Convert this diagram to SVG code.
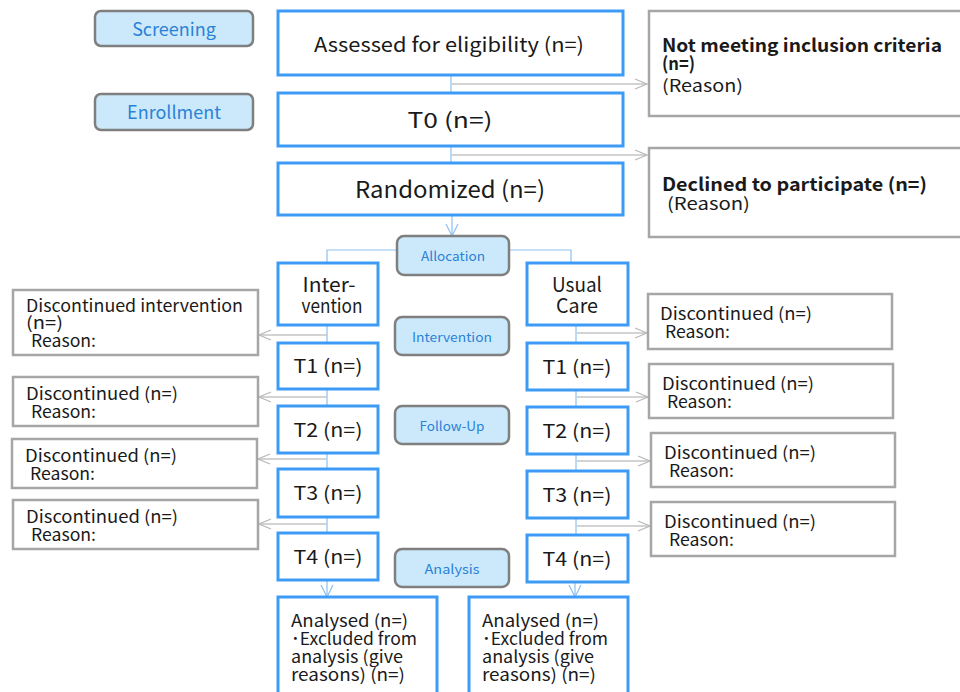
<svg xmlns="http://www.w3.org/2000/svg" width="960" height="692" viewBox="0 0 960 692">
<style>
text{font-family:"Noto Sans CJK JP","Noto Sans",sans-serif;fill:#1a1a1a}
.phase rect{fill:#cce9fc;stroke:#7f7f7f;stroke-width:2.5}
.phase text{fill:#2a82d6;text-anchor:middle}
.main rect{fill:#fff;stroke:#3d9bf5;stroke-width:3}
.main text{text-anchor:middle}
.main text.lt{text-anchor:start;font-size:17px}
.side rect{fill:#fff;stroke:#a6a6a6;stroke-width:2.5}
.side text{font-size:17px}
.gl{stroke:#c4c4c4;stroke-width:1.5;fill:none}
.bl{stroke:#8cc0f0;stroke-width:1.2;fill:none}
.side text.b{font-weight:bold;font-size:18px}
</style>
<defs>
<marker id="ga" markerWidth="14" markerHeight="12" refX="13" refY="6" orient="auto" markerUnits="userSpaceOnUse"><path d="M1,1 L13,6 L1,11" fill="none" stroke="#b8b8b8" stroke-width="1.2"/></marker>
<marker id="ba" markerWidth="14" markerHeight="14" refX="7" refY="13" orient="0" markerUnits="userSpaceOnUse"><path d="M1,1 L7,13 L13,1" fill="none" stroke="#8cc0f0" stroke-width="1.2"/></marker>
</defs>

<g id="connectors">
<path class="bl" d="M451,75 V93"/>
<path class="gl" d="M452,84 H647" marker-end="url(#ga)"/>
<path class="bl" d="M451,146 V163"/>
<path class="gl" d="M452,155 H647" marker-end="url(#ga)"/>
<path class="bl" d="M452,215 V236" marker-end="url(#ba)"/>
<path class="bl" d="M327,263 V250 H397"/>
<path class="bl" d="M509,250 H571 V263"/>
<path class="bl" d="M327,325 V343 M327,389 V406 M327,453 V469 M327,517 V533"/>
<path class="bl" d="M327,580 V597" marker-end="url(#ba)"/>
<path class="gl" d="M327,335 H259" marker-end="url(#ga)"/>
<path class="gl" d="M327,397 H259" marker-end="url(#ga)"/>
<path class="gl" d="M326,459 H258" marker-end="url(#ga)"/>
<path class="gl" d="M327,524 H259" marker-end="url(#ga)"/>
<path class="bl" d="M576,325 V343 M576,390 V407 M576,454 V471 M576,518 V535"/>
<path class="bl" d="M575,582 V597" marker-end="url(#ba)"/>
<path class="gl" d="M577,333 H647" marker-end="url(#ga)"/>
<path class="gl" d="M577,397 H648" marker-end="url(#ga)"/>
<path class="gl" d="M577,461 H650" marker-end="url(#ga)"/>
<path class="gl" d="M577,526 H650" marker-end="url(#ga)"/>
</g>

<g id="screening" class="phase"><rect x="95" y="11" width="158" height="35" rx="6"/><text x="174" y="36" font-size="18">Screening</text></g>
<g id="enrollment" class="phase"><rect x="95" y="94" width="158" height="36" rx="6"/><text x="174" y="119" font-size="18">Enrollment</text></g>
<g id="allocation" class="phase"><rect x="397" y="236" width="112" height="39" rx="7"/><text x="453" y="261" font-size="13" textLength="64" lengthAdjust="spacingAndGlyphs">Allocation</text></g>
<g id="intervention-phase" class="phase"><rect x="395" y="317" width="114" height="38" rx="7"/><text x="452" y="342" font-size="13" textLength="80" lengthAdjust="spacingAndGlyphs">Intervention</text></g>
<g id="followup" class="phase"><rect x="395" y="406" width="114" height="38" rx="7"/><text x="452" y="431" font-size="13" textLength="65" lengthAdjust="spacingAndGlyphs">Follow-Up</text></g>
<g id="analysis" class="phase"><rect x="395" y="549" width="114" height="38" rx="7"/><text x="452" y="574" font-size="13" textLength="55" lengthAdjust="spacingAndGlyphs">Analysis</text></g>

<g id="assessed" class="main"><rect x="278" y="11" width="345" height="64"/><text x="449" y="52" font-size="20" textLength="270" lengthAdjust="spacingAndGlyphs">Assessed for eligibility (n=)</text></g>
<g id="t0" class="main"><rect x="278" y="93" width="345" height="53"/><text x="450" y="128" font-size="21" textLength="85" lengthAdjust="spacingAndGlyphs">T0 (n=)</text></g>
<g id="randomized" class="main"><rect x="278" y="163" width="345" height="52"/><text x="450" y="198" font-size="23" textLength="190" lengthAdjust="spacingAndGlyphs">Randomized (n=)</text></g>

<g id="inter" class="main"><rect x="278" y="263" width="100" height="62"/><text x="329" y="292" font-size="20" textLength="53" lengthAdjust="spacingAndGlyphs">Inter-</text><text x="332" y="313" font-size="20" textLength="61" lengthAdjust="spacingAndGlyphs">vention</text></g>
<g id="usual" class="main"><rect x="527" y="263" width="101" height="62"/><text x="577" y="292" font-size="20" textLength="50" lengthAdjust="spacingAndGlyphs">Usual</text><text x="577" y="313" font-size="20" textLength="42" lengthAdjust="spacingAndGlyphs">Care</text></g>

<g id="l-t1" class="main"><rect x="278" y="343" width="100" height="46"/><text x="328" y="373" font-size="19" textLength="69" lengthAdjust="spacingAndGlyphs">T1 (n=)</text></g>
<g id="l-t2" class="main"><rect x="278" y="406" width="100" height="47"/><text x="328" y="437" font-size="19" textLength="69" lengthAdjust="spacingAndGlyphs">T2 (n=)</text></g>
<g id="l-t3" class="main"><rect x="278" y="469" width="100" height="48"/><text x="328" y="500" font-size="19" textLength="69" lengthAdjust="spacingAndGlyphs">T3 (n=)</text></g>
<g id="l-t4" class="main"><rect x="278" y="533" width="100" height="47"/><text x="328" y="564" font-size="19" textLength="69" lengthAdjust="spacingAndGlyphs">T4 (n=)</text></g>

<g id="r-t1" class="main"><rect x="527" y="343" width="101" height="47"/><text x="577" y="374" font-size="19" textLength="69" lengthAdjust="spacingAndGlyphs">T1 (n=)</text></g>
<g id="r-t2" class="main"><rect x="527" y="407" width="101" height="47"/><text x="577" y="438" font-size="19" textLength="69" lengthAdjust="spacingAndGlyphs">T2 (n=)</text></g>
<g id="r-t3" class="main"><rect x="527" y="471" width="101" height="47"/><text x="577" y="502" font-size="19" textLength="69" lengthAdjust="spacingAndGlyphs">T3 (n=)</text></g>
<g id="r-t4" class="main"><rect x="527" y="535" width="101" height="47"/><text x="577" y="566" font-size="19" textLength="69" lengthAdjust="spacingAndGlyphs">T4 (n=)</text></g>

<g id="l-analysed" class="main"><rect x="278" y="597" width="159" height="110"/><text class="lt" x="291" y="627" textLength="117" lengthAdjust="spacingAndGlyphs">Analysed (n=)</text><text class="lt" x="291" y="645" textLength="126" lengthAdjust="spacingAndGlyphs">･Excluded from</text><text class="lt" x="291" y="663" textLength="112" lengthAdjust="spacingAndGlyphs">analysis (give</text><text class="lt" x="291" y="681" textLength="114" lengthAdjust="spacingAndGlyphs">reasons) (n=)</text></g>
<g id="r-analysed" class="main"><rect x="469" y="597" width="159" height="110"/><text class="lt" x="482" y="627" textLength="117" lengthAdjust="spacingAndGlyphs">Analysed (n=)</text><text class="lt" x="482" y="645" textLength="126" lengthAdjust="spacingAndGlyphs">･Excluded from</text><text class="lt" x="482" y="663" textLength="112" lengthAdjust="spacingAndGlyphs">analysis (give</text><text class="lt" x="482" y="681" textLength="114" lengthAdjust="spacingAndGlyphs">reasons) (n=)</text></g>

<g id="not-meeting" class="side"><rect x="649" y="11" width="320" height="105"/><text x="662" y="52" class="b" textLength="280" lengthAdjust="spacingAndGlyphs">Not meeting inclusion criteria</text><text x="662" y="70" class="b" textLength="33" lengthAdjust="spacingAndGlyphs">(n=)</text><text x="662" y="92" textLength="81" lengthAdjust="spacingAndGlyphs">(Reason)</text></g>
<g id="declined" class="side"><rect x="649" y="148" width="320" height="89"/><text x="662" y="191" class="b" textLength="265" lengthAdjust="spacingAndGlyphs">Declined to participate (n=)</text><text x="667" y="210" textLength="83" lengthAdjust="spacingAndGlyphs">(Reason)</text></g>

<g id="l-d0" class="side"><rect x="13" y="290" width="245" height="65"/><text x="26" y="312" textLength="217" lengthAdjust="spacingAndGlyphs">Discontinued intervention</text><text x="26" y="329" textLength="37" lengthAdjust="spacingAndGlyphs">(n=)</text><text x="31" y="347" textLength="65" lengthAdjust="spacingAndGlyphs">Reason:</text></g>
<g id="l-d1" class="side"><rect x="13" y="377" width="245" height="49"/><text x="26" y="400" textLength="152" lengthAdjust="spacingAndGlyphs">Discontinued (n=)</text><text x="31" y="418" textLength="65" lengthAdjust="spacingAndGlyphs">Reason:</text></g>
<g id="l-d2" class="side"><rect x="12" y="439" width="245" height="49"/><text x="25" y="462" textLength="152" lengthAdjust="spacingAndGlyphs">Discontinued (n=)</text><text x="30" y="480" textLength="65" lengthAdjust="spacingAndGlyphs">Reason:</text></g>
<g id="l-d3" class="side"><rect x="13" y="500" width="245" height="49"/><text x="26" y="523" textLength="152" lengthAdjust="spacingAndGlyphs">Discontinued (n=)</text><text x="31" y="541" textLength="65" lengthAdjust="spacingAndGlyphs">Reason:</text></g>

<g id="r-d0" class="side"><rect x="648" y="294" width="244" height="55"/><text x="660" y="320" textLength="152" lengthAdjust="spacingAndGlyphs">Discontinued (n=)</text><text x="665" y="338" textLength="65" lengthAdjust="spacingAndGlyphs">Reason:</text></g>
<g id="r-d1" class="side"><rect x="649" y="364" width="244" height="54"/><text x="662" y="390" textLength="152" lengthAdjust="spacingAndGlyphs">Discontinued (n=)</text><text x="667" y="408" textLength="65" lengthAdjust="spacingAndGlyphs">Reason:</text></g>
<g id="r-d2" class="side"><rect x="651" y="433" width="244" height="54"/><text x="664" y="459" textLength="152" lengthAdjust="spacingAndGlyphs">Discontinued (n=)</text><text x="669" y="477" textLength="65" lengthAdjust="spacingAndGlyphs">Reason:</text></g>
<g id="r-d3" class="side"><rect x="651" y="502" width="244" height="54"/><text x="664" y="528" textLength="152" lengthAdjust="spacingAndGlyphs">Discontinued (n=)</text><text x="669" y="546" textLength="65" lengthAdjust="spacingAndGlyphs">Reason:</text></g>
</svg>
